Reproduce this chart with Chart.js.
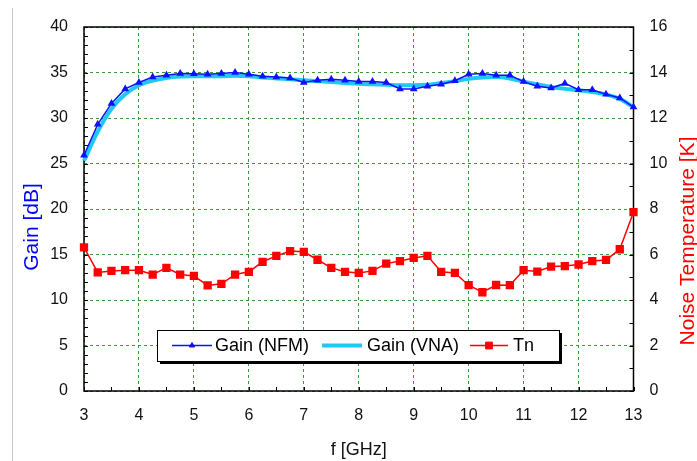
<!DOCTYPE html>
<html>
<head>
<meta charset="utf-8">
<script src="https://cdn.jsdelivr.net/npm/chart.js@4.4.1/dist/chart.umd.min.js"></script>
<style>
  html, body { margin: 0; padding: 0; background: #fff; }
  #wrap { width: 697px; height: 461px; position: relative; }
</style>
</head>
<body>
<div id="wrap"><canvas id="chart"></canvas></div>
<script>
// frequency points (GHz)
const freqs = [3, 3.25, 3.5, 3.75, 4, 4.25, 4.5, 4.75, 5, 5.25, 5.5, 5.75, 6, 6.25, 6.5, 6.75, 7, 7.25, 7.5, 7.75, 8,
  8.25, 8.5, 8.75, 9, 9.25, 9.5, 9.75, 10, 10.25, 10.5, 10.75, 11, 11.25, 11.5, 11.75, 12, 12.25, 12.5, 12.75, 13];

// Gain measured with noise figure meter (dB)
const gainNFM = [25.9, 29.3, 31.6, 33.2, 33.9, 34.5, 34.7, 34.9, 34.85, 34.8, 34.9, 35.0, 34.8, 34.6, 34.5, 34.4, 33.9, 34.15, 34.25, 34.15, 34.0,
  34.0, 33.9, 33.2, 33.2, 33.5, 33.7, 34.1, 34.8, 34.9, 34.7, 34.7, 34.0, 33.5, 33.3, 33.8, 33.1, 33.1, 32.6, 32.2, 31.2];

// Gain measured with VNA (dB)
const gainVNA = [25.3, 28.5, 31.0, 32.6, 33.6, 34.1, 34.4, 34.55, 34.6, 34.6, 34.6, 34.65, 34.6, 34.45, 34.35, 34.25, 34.15, 34.05, 33.95, 33.85, 33.75,
  33.7, 33.65, 33.6, 33.6, 33.65, 33.85, 34.05, 34.3, 34.45, 34.5, 34.35, 34.0, 33.7, 33.4, 33.2, 33.05, 32.85, 32.6, 32.1, 31.2];

// Noise temperature (K)
const noiseTemp = [6.31, 5.21, 5.28, 5.31, 5.31, 5.12, 5.41, 5.12, 5.06, 4.64, 4.71, 5.12, 5.24, 5.68, 5.94, 6.15, 6.12, 5.77, 5.41, 5.24, 5.19,
  5.28, 5.60, 5.71, 5.85, 5.94, 5.24, 5.19, 4.65, 4.34, 4.66, 4.65, 5.31, 5.25, 5.47, 5.49, 5.56, 5.71, 5.76, 6.23, 7.86];

const FONT = 'Arial, "Liberation Sans", sans-serif';
const toXY = arr => arr.map((v, i) => ({ x: freqs[i], y: v }));

// frame + inward tick marks
const framePlugin = {
  id: 'frame',
  beforeDatasetsDraw(chart) {
    const { ctx, chartArea: a, scales } = chart;
    ctx.save();
    ctx.strokeStyle = '#000';
    ctx.lineWidth = 1;
    ctx.beginPath();
    for (let v = 0; v <= 40; v += 1) {
      const y = Math.round(scales.y.getPixelForValue(v)) + 0.5;
      ctx.moveTo(a.left, y); ctx.lineTo(a.left + 4, y);
    }
    for (let v = 0; v <= 16; v += 1) {
      const y = Math.round(scales.y2.getPixelForValue(v)) + 0.5;
      ctx.moveTo(a.right, y); ctx.lineTo(a.right - 4, y);
    }
    for (let v = 3; v <= 13; v += 0.5) {
      const x = Math.round(scales.x.getPixelForValue(v)) + 0.5;
      ctx.moveTo(x, a.bottom); ctx.lineTo(x, a.bottom - 4);
    }
    ctx.stroke();
    ctx.lineWidth = 1.5;
    ctx.strokeRect(a.left, a.top, a.right - a.left, a.bottom - a.top);
    // thin slide border on the left
    ctx.strokeStyle = '#c8c8c8';
    ctx.lineWidth = 1;
    ctx.beginPath();
    ctx.moveTo(12.5, 8); ctx.lineTo(12.5, 461);
    ctx.stroke();
    ctx.restore();
  }
};

// axis titles for y axes (both read bottom-to-top) + boxed legend
const overlayPlugin = {
  id: 'overlay',
  afterDraw(chart) {
    const ctx = chart.ctx;
    ctx.save();
    ctx.font = '21px ' + FONT;
    ctx.textAlign = 'center';
    ctx.textBaseline = 'middle';
    ctx.translate(32, 227);
    ctx.rotate(-Math.PI / 2);
    ctx.fillStyle = '#0000ff';
    ctx.fillText('Gain [dB]', 0, 0);
    ctx.restore();

    ctx.save();
    ctx.font = '21px ' + FONT;
    ctx.textAlign = 'center';
    ctx.textBaseline = 'middle';
    ctx.translate(688, 241);
    ctx.rotate(-Math.PI / 2);
    ctx.fillStyle = '#ff0000';
    ctx.fillText('Noise Temperature [K]', 0, 0);
    ctx.restore();

    // legend box
    const box = { x: 157, y: 330, w: 402, h: 31 };
    ctx.save();
    ctx.fillStyle = '#000';
    ctx.fillRect(box.x + 3, box.y + 3, box.w, box.h);
    ctx.fillStyle = '#fff';
    ctx.fillRect(box.x, box.y, box.w, box.h);
    ctx.strokeStyle = '#000';
    ctx.lineWidth = 1;
    ctx.strokeRect(box.x + 0.5, box.y + 0.5, box.w, box.h);

    const cy = box.y + box.h / 2;
    const items = [
      { ds: 0, x0: 172, x1: 212, tx: 215 },
      { ds: 1, x0: 322, x1: 362, tx: 367 },
      { ds: 2, x0: 470, x1: 508, tx: 513 }
    ];
    items.forEach(it => {
      const d = chart.data.datasets[it.ds];
      ctx.strokeStyle = d.borderColor;
      ctx.lineWidth = d.borderWidth;
      ctx.beginPath();
      ctx.moveTo(it.x0, cy); ctx.lineTo(it.x1, cy);
      ctx.stroke();
      if (d.pointRadius > 0) {
        ctx.fillStyle = d.pointBackgroundColor;
        ctx.strokeStyle = d.pointBorderColor;
        ctx.lineWidth = 1;
        Chart.helpers.drawPoint(ctx, { pointStyle: d.pointStyle, radius: d.pointRadius, borderWidth: 1, rotation: 0 },
          (it.x0 + it.x1) / 2, cy);
      }
      ctx.fillStyle = '#000';
      ctx.font = '18px ' + FONT;
      ctx.textAlign = 'left';
      ctx.textBaseline = 'middle';
      ctx.fillText(d.label, it.tx, cy + 1);
    });
    ctx.restore();
  }
};

const gridStyle = { color: '#3a9a3a', lineWidth: 1, drawTicks: false, tickLength: 0 };
const borderStyle = { display: false, dash: [3, 3] };

new Chart(document.getElementById('chart'), {
  type: 'line',
  data: {
    datasets: [
      {
        label: 'Gain (NFM)',
        data: toXY(gainNFM),
        yAxisID: 'y',
        borderColor: '#1010ff',
        borderWidth: 1.5,
        pointStyle: 'triangle',
        pointRadius: 3,
        pointBackgroundColor: '#1010ff',
        pointBorderColor: '#1010ff',
        tension: 0,
        clip: false,
        order: 1
      },
      {
        label: 'Gain (VNA)',
        data: toXY(gainVNA),
        yAxisID: 'y',
        borderColor: '#1ec8f8',
        borderWidth: 4,
        pointRadius: 0,
        cubicInterpolationMode: 'monotone',
        clip: false,
        order: 2
      },
      {
        label: 'Tn',
        data: toXY(noiseTemp),
        yAxisID: 'y2',
        borderColor: '#ff0000',
        borderWidth: 1.5,
        pointStyle: 'rect',
        pointRadius: 4.8,
        pointBackgroundColor: '#ff0000',
        pointBorderColor: '#ff0000',
        tension: 0,
        clip: false,
        order: 0
      }
    ]
  },
  options: {
    responsive: true,
    maintainAspectRatio: false,
    animation: false,
    layout: { padding: { top: 27, left: 0, right: 0, bottom: 0 } },
    plugins: {
      legend: { display: false },
      tooltip: { enabled: false }
    },
    scales: {
      x: {
        type: 'linear',
        min: 3,
        max: 13,
        afterFit: s => { s.height = 70; },
        ticks: { stepSize: 1, padding: 15, color: '#111', maxRotation: 0, font: { size: 16, family: FONT } },
        grid: gridStyle,
        border: borderStyle,
        title: { display: true, text: 'f [GHz]', color: '#111', font: { size: 18, family: FONT }, padding: { top: 0, bottom: 0 } }
      },
      y: {
        position: 'left',
        min: 0,
        max: 40,
        afterFit: s => { s.width = 84; },
        ticks: { stepSize: 5, padding: 16, color: '#111', font: { size: 16, family: FONT } },
        grid: gridStyle,
        border: borderStyle
      },
      y2: {
        position: 'right',
        min: 0,
        max: 16,
        afterFit: s => { s.width = 63.5; },
        ticks: { stepSize: 2, padding: 16, color: '#111', font: { size: 16, family: FONT } },
        grid: { display: false, drawTicks: false, tickLength: 0 },
        border: { display: false }
      }
    }
  },
  plugins: [framePlugin, overlayPlugin]
});
</script>
</body>
</html>
